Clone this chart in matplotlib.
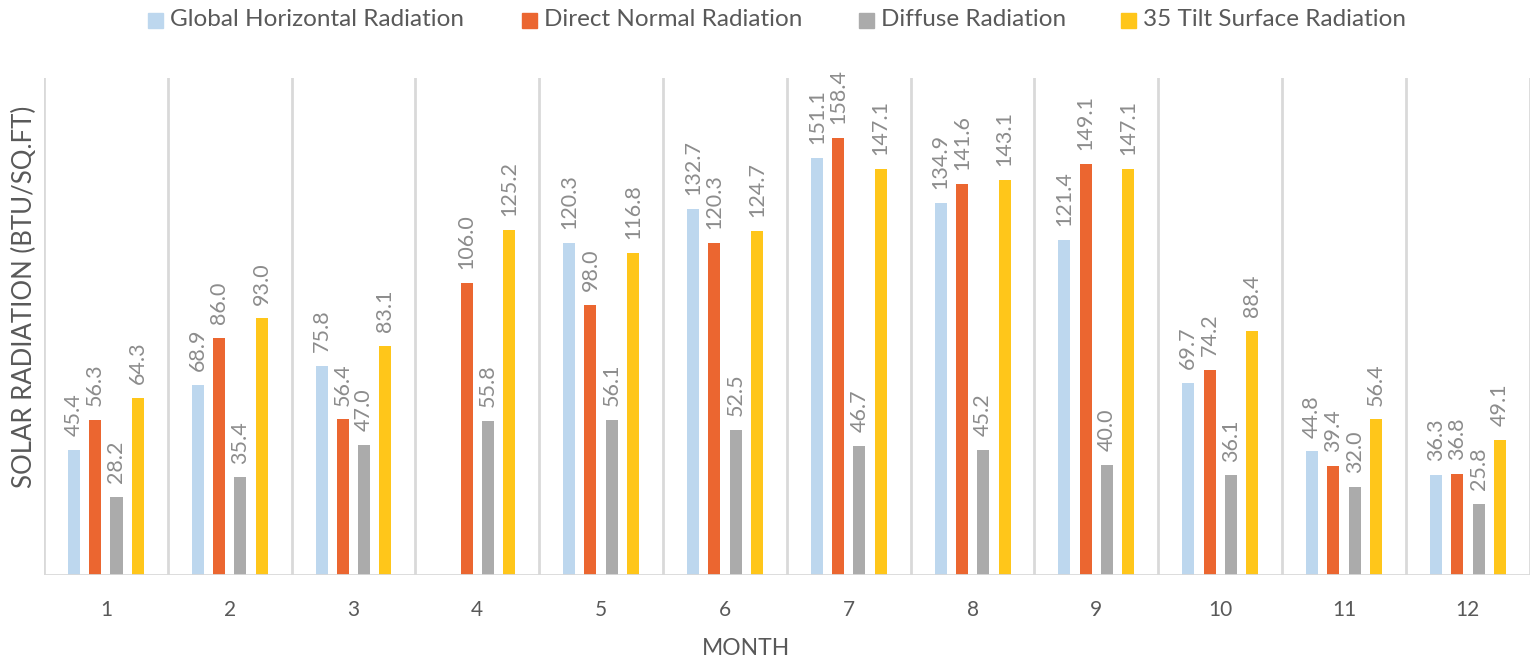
import numpy as np
import matplotlib
matplotlib.use("Agg")
import matplotlib.pyplot as plt
from matplotlib.patches import Rectangle

plt.rcParams['font.family'] = ['Lato', 'DejaVu Sans']

months = [str(m) for m in range(1, 13)]
series_names = ["Global Horizontal Radiation", "Direct Normal Radiation",
                "Diffuse Radiation", "35 Tilt Surface Radiation"]
global_horiz = [45.4, 68.9, 75.8, np.nan, 120.3, 132.7, 151.1, 134.9, 121.4, 69.7, 44.8, 36.3]
direct_normal = [56.3, 86.0, 56.4, 106.0, 98.0, 120.3, 158.4, 141.6, 149.1, 74.2, 39.4, 36.8]
diffuse = [28.2, 35.4, 47.0, 55.8, 56.1, 52.5, 46.7, 45.2, 40.0, 36.1, 32.0, 25.8]
tilt35 = [64.3, 93.0, 83.1, 125.2, 116.8, 124.7, 147.1, 143.1, 147.1, 88.4, 56.4, 49.1]
colors = ["#BDD7EE", "#EB6630", "#ABABAB", "#FFC61A"]

W, H = 1531, 658
fig = plt.figure(figsize=(W / 100, H / 100), dpi=100)
ax = fig.add_axes([0.0287, 0.126, 0.9705, 0.755])

x = np.arange(1, 13)
width = 0.097
step = 0.172
offsets = (np.arange(4) - 1.5) * step
data = [global_horiz, direct_normal, diffuse, tilt35]
for i, (vals, c, name) in enumerate(zip(data, colors, series_names)):
    vals = np.array(vals, dtype=float)
    ax.bar(x + offsets[i], vals, width=width, color=c, label=name, zorder=3)
    for xi, v in zip(x + offsets[i], vals):
        if np.isnan(v):
            continue
        ax.annotate(f"{v:.1f}", (xi, v), xytext=(0, 10), textcoords="offset points",
                    rotation=90, ha="center", va="bottom", fontsize=15.5, color="#8C8C8C")

ax.set_xlim(0.5, 12.5)
ax.set_ylim(0, 180)
for b in np.arange(0.5, 13.0, 1.0):
    ax.axvline(b, color="#D9D9D9", lw=2, zorder=1)
ax.axhline(0, color="#D9D9D9", lw=2, zorder=4)
for s in ax.spines.values():
    s.set_visible(False)
ax.set_yticks([])
ax.set_xticks(x)
ax.set_xticklabels(months, fontsize=15, color="#595959")
ax.tick_params(axis="x", length=0, pad=18)
ax.set_xlabel("MONTH", fontsize=16.5, color="#595959")
ax.xaxis.set_label_coords(0.4724, -0.127)
ax.set_ylabel("SOLAR RADIATION (BTU/SQ.FT)", fontsize=18.5, color="#595959")
ax.yaxis.set_label_coords(-0.005, 0.56)

# legend (manual placement in figure pixels)
handle_x = [148, 522, 859, 1121]
for hx, c, name in zip(handle_x, colors, series_names):
    fig.patches.append(Rectangle((hx / W, 1 - 28 / H), 15 / W, 15 / H,
                                 transform=fig.transFigure, color=c))
    fig.text((hx + 22) / W, 1 - 20 / H, name, fontsize=17.5, color="#595959",
             ha="left", va="center")

fig.savefig("out.png", dpi=100)
